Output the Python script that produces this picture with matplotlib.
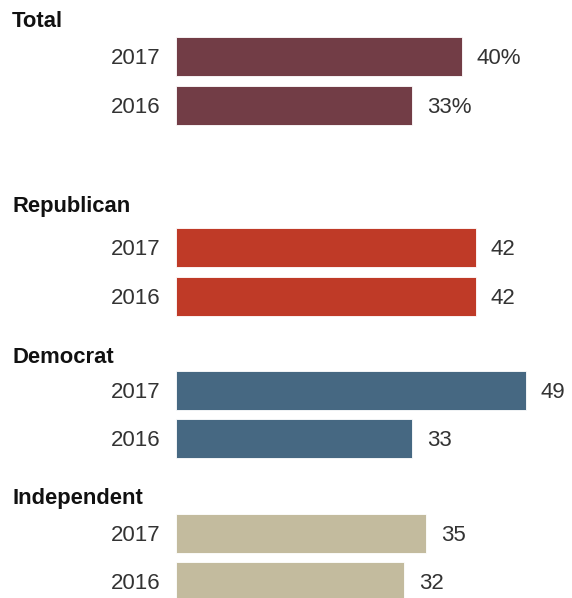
import matplotlib.pyplot as plt

# data
groups = ["Total", "Republican", "Democrat", "Independent"]
years = ["2017", "2016"]
values = [[40, 33], [42, 42], [49, 33], [35, 32]]
colors = ["#723d46", "#bf3a27", "#466882", "#c3bb9e"]

# layout in pixels (figure is 572x598, y grows downward)
header_y = [19, 204, 355, 496]
bar_y = [[56, 105], [247, 296], [390, 438], [533, 581]]
bar_h = 39
x0 = 176          # pixel where bars start
px_per_unit = 7.14

plt.rcParams['font.family'] = ['Liberation Sans', 'DejaVu Sans']

fig = plt.figure(figsize=(5.72, 5.98), dpi=100)
ax = fig.add_axes([0, 0, 1, 1])
ax.set_xlim(-x0 / px_per_unit, (572 - x0) / px_per_unit)
ax.set_ylim(598, 0)
ax.axis('off')

lbl_x = -15 / px_per_unit
for i, g in enumerate(groups):
    ax.text(-164 / px_per_unit, header_y[i], g, fontsize=15.8, fontweight='bold',
            ha='left', va='center_baseline', color='#111111')
    for j, yr in enumerate(years):
        v = values[i][j]
        y = bar_y[i][j]
        ax.barh(y, v, height=bar_h, left=0, color=colors[i],
                edgecolor='white', linewidth=0.6)
        ax.text(lbl_x, y, yr, fontsize=16, ha='right', va='center_baseline', color='#333333')
        txt = f"{v}%" if i == 0 else f"{v}"
        ax.text(v + 2.1, y, txt, fontsize=16, ha='left', va='center_baseline', color='#333333')

fig.savefig('out.png', dpi=100)
